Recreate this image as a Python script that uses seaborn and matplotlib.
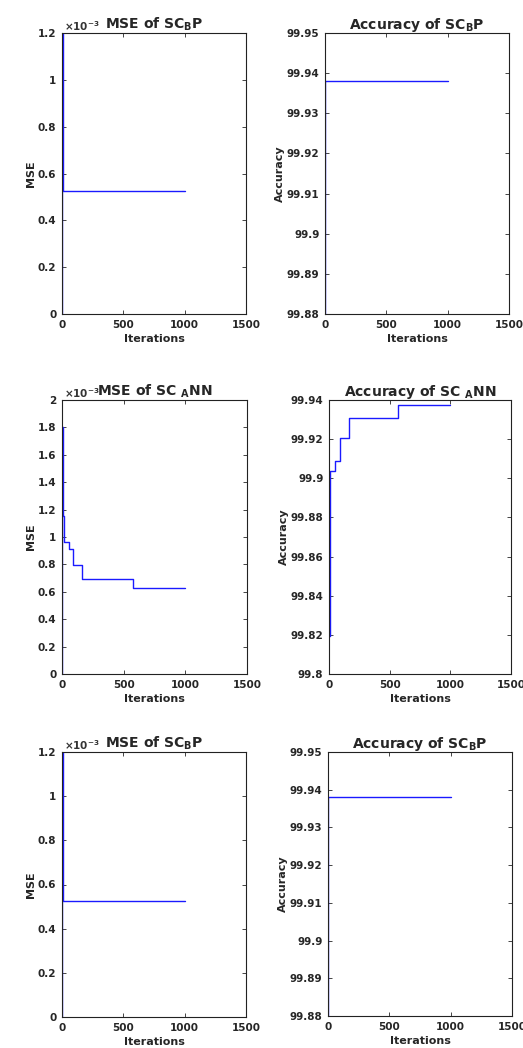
import numpy as np
import pandas as pd
import matplotlib
matplotlib.use("Agg")
import matplotlib.pyplot as plt
import matplotlib.ticker as mticker
import seaborn as sns

# --- data (step curves: value holds until next iteration) ---
bp_iter = [0, 1, 6, 1000]
bp_mse = [0.0, 1.5e-3, 0.524e-3, 0.524e-3]
bp_acc_iter = [0, 1, 1000]
bp_acc = [99.85, 99.938, 99.938]

ann_iter = [0, 1, 10, 18, 55, 87, 164, 574, 1000]
ann_mse = [0.0, 1.80e-3, 1.155e-3, 0.961e-3, 0.912e-3, 0.796e-3, 0.693e-3, 0.625e-3, 0.625e-3]
ann_acc_iter = [0, 5, 12, 50, 87, 162, 570, 1000]
ann_acc = [99.8196, 99.8843, 99.9039, 99.9088, 99.9204, 99.9306, 99.9375, 99.9375]

x_ticks = [0, 500, 1000, 1500]
mse_ticks_bp = [0, 0.2e-3, 0.4e-3, 0.6e-3, 0.8e-3, 1.0e-3, 1.2e-3]
mse_ticks_ann = [0, 0.2e-3, 0.4e-3, 0.6e-3, 0.8e-3, 1.0e-3, 1.2e-3, 1.4e-3, 1.6e-3, 1.8e-3, 2.0e-3]
acc_ticks_bp = [99.88, 99.89, 99.90, 99.91, 99.92, 99.93, 99.94, 99.95]
acc_ticks_ann = [99.80, 99.82, 99.84, 99.86, 99.88, 99.90, 99.92, 99.94]

sns.set_style("ticks")
plt.rcParams['font.family'] = ['DejaVu Sans']
plt.rcParams['font.weight'] = 'bold'
plt.rcParams['mathtext.fontset'] = 'dejavusans'
plt.rcParams['mathtext.default'] = 'bf'
plt.rcParams['xtick.direction'] = 'in'
plt.rcParams['ytick.direction'] = 'in'

fig = plt.figure(figsize=(5.23, 10.48), dpi=100)
W, H = 523, 1048


def make_ax(l, r, t, b):
    return fig.add_axes([l / W, 1 - b / H, (r - l) / W, (b - t) / H])


def style(ax, yticks, ylim, ylabel, title, mse=False):
    ax.set_xlim(0, 1500)
    ax.set_xticks(x_ticks)
    ax.set_ylim(*ylim)
    ax.set_yticks(yticks)
    if mse:
        ax.yaxis.set_major_formatter(mticker.FuncFormatter(lambda v, p: '%g' % round(v * 1e3, 6)))
        ax.text(0.01, 1.0, r'$\times$10$^{-3}$', transform=ax.transAxes,
                fontsize=7.5, color='#333333', va='bottom', ha='left')
    else:
        ax.yaxis.set_major_formatter(mticker.FuncFormatter(lambda v, p: '%g' % round(v, 6)))
    ax.tick_params(top=True, right=True, length=3, width=0.6, labelsize=7.5, pad=4)
    for s in ax.spines.values():
        s.set_linewidth(0.8)
        s.set_color('#222222')
    ax.set_xlabel('Iterations', fontsize=8, fontweight='bold', labelpad=3)
    ax.set_ylabel(ylabel, fontsize=8, fontweight='bold', labelpad=1.5)
    ax.set_title(title, fontsize=10, fontweight='bold', pad=3)


def step(ax, x, y):
    df = pd.DataFrame({'it': x, 'val': y})
    sns.lineplot(data=df, x='it', y='val', ax=ax, estimator=None, sort=False,
                 drawstyle='steps-post', color='#1a1aff', linewidth=1.0)


# row 1
ax = make_ax(62, 246, 33, 314)
step(ax, bp_iter, bp_mse)
style(ax, mse_ticks_bp, (0, 1.2e-3), 'MSE', r'MSE of SC$_{B}$P', mse=True)

ax = make_ax(325, 509, 33, 314)
step(ax, bp_acc_iter, bp_acc)
style(ax, acc_ticks_bp, (99.88, 99.95), 'Accuracy', r'Accuracy of SC$_{B}$P')

# row 2
ax = make_ax(62, 247, 400, 674)
step(ax, ann_iter, ann_mse)
style(ax, mse_ticks_ann, (0, 2.0e-3), 'MSE', r'MSE of SC $_{A}$NN', mse=True)

ax = make_ax(329, 511, 400, 674)
step(ax, ann_acc_iter, ann_acc)
style(ax, acc_ticks_ann, (99.80, 99.94), 'Accuracy', r'Accuracy of SC $_{A}$NN')

# row 3
ax = make_ax(62, 246, 752, 1017)
step(ax, bp_iter, bp_mse)
style(ax, mse_ticks_bp, (0, 1.2e-3), 'MSE', r'MSE of SC$_{B}$P', mse=True)

ax = make_ax(328, 512, 752, 1016)
step(ax, bp_acc_iter, bp_acc)
style(ax, acc_ticks_bp, (99.88, 99.95), 'Accuracy', r'Accuracy of SC$_{B}$P')

fig.savefig('out.png', dpi=100)
